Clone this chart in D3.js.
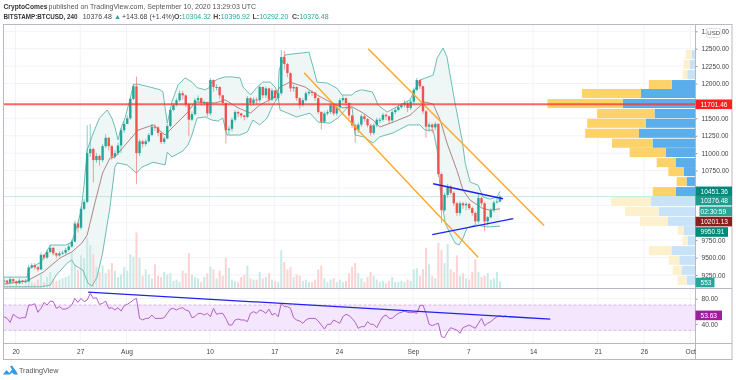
<!DOCTYPE html>
<html>
<head>
<meta charset="utf-8">
<script src="https://d3js.org/d3.v7.min.js"></script>
<style>
  html, body { margin: 0; background: #fff; }
  svg { display: block; filter: blur(0.4px); font-family: "Liberation Sans", Arial, sans-serif; }
</style>
</head>
<body>
<div id="chart"></div>
<script>
// bars are 8h steps, bar 0 sits at the left edge of the pane
const closes = [9170,9140,9190,9160,9130,9170,9150,9160,9360,9390,9360,9330,9540,9500,9580,9640,9560,9530,9560,9570,9610,9660,9730,9990,9930,10200,10300,
  11000,11060,10900,10960,10900,11100,11220,11100,10950,11000,11110,11330,11420,11500,11780,11960,
  11000,11170,11130,11170,11260,11380,11370,11290,11160,11210,11390,11620,11690,11760,11860,11830,11700,11480,11560,11760,11790,11720,11730,11570,12050,11950,11950,11830,11720,11330,11350,11480,11590,11570,11540,11520,11790,11720,11770,
  11760,11950,11830,11930,11770,11900,11790,11860,12380,12280,12150,11930,11950,11790,11690,11760,11860,11880,11870,11790,11590,11450,11570,11590,11690,11570,11660,11760,11790,11720,11540,11400,11330,11410,11530,11490,11400,11290,11400,11480,
  11480,11550,11530,11470,11590,11620,11660,11690,11720,11650,11740,11910,12050,11960,11600,11380,11410,11370,11420,10700,10180,10400,10520,10430,10280,10140,10280,10250,10270,10210,10140,10020,10355,10280,10020,10080,10180,10290,10304,10376.48];
const highs = [9200,9180,9220,9200,9170,9200,9180,9190,9400,9420,9420,9380,9570,9560,9610,9680,9650,9570,9590,9600,9640,9700,9760,10030,10010,10230,10340,
  11400,11420,11080,11000,10980,11130,11270,11230,11120,11040,11150,11360,11460,11540,11800,12000,
  12100,11200,11190,11200,11290,11420,11420,11390,11300,11240,11420,11640,11720,11790,11900,11890,11840,11720,11600,11790,11830,11800,11760,11740,12080,12060,11990,11960,11840,11730,11390,11510,11620,11610,11580,11550,11820,11800,11800,
  11800,11980,11960,11960,11940,11930,11910,11880,12480,12470,12300,12160,11980,11960,11800,11790,11890,11910,11900,11880,11800,11600,11600,11620,11720,11700,11690,11790,11830,11800,11730,11550,11420,11440,11560,11560,11500,11420,11430,11510,
  11510,11580,11570,11540,11620,11650,11690,11720,11760,11740,11770,11940,12080,12060,11970,11620,11440,11430,11450,11430,10720,10430,10560,10540,10450,10300,10310,10300,10300,10290,10230,10160,10420,10370,10290,10100,10210,10320,10370,10396.92];
const lows = [9130,9110,9130,9130,9100,9120,9120,9130,9150,9340,9330,9300,9320,9470,9480,9560,9530,9490,9510,9540,9550,9590,9640,9720,9860,9900,10180,
  10280,10950,10580,10860,10820,10870,11070,11040,10900,10920,10970,11000,11290,11420,11480,11760,
  10560,10960,11080,11100,11150,11240,11320,11240,11130,11130,11200,11370,11600,11670,11740,11770,11660,11240,11460,11540,11730,11680,11680,11520,11540,11880,11900,11780,11680,11140,11270,11310,11450,11520,11500,11470,11500,11680,11680,
  11700,11730,11790,11790,11720,11740,11750,11760,11830,12200,12090,11880,11880,11750,11640,11670,11740,11830,11820,11750,11560,11340,11430,11540,11560,11540,11540,11620,11730,11670,11490,11360,11150,11290,11380,11450,11370,11250,11260,11370,
  11430,11450,11480,11420,11440,11560,11600,11640,11660,11590,11620,11700,11890,11920,11560,11220,11300,11290,11330,10660,10000,10160,10360,10400,10240,10100,10100,10200,10180,10180,10100,9980,9990,10240,9880,9960,10060,10150,10280,10292.2];
const volumes = [300,250,320,200,260,240,180,300,1200,500,400,700,1100,500,900,1300,800,600,700,800,900,1000,2800,1900,1500,2600,2400,
  4000,3400,2700,1700,1300,1800,1200,1500,2000,1400,900,1100,1700,1400,2700,2500,
  4400,2400,1000,1500,1100,800,1900,1000,900,1300,1100,1200,600,700,500,1400,1200,2800,1100,900,800,500,900,1200,1700,1500,800,1400,1000,2400,1600,700,600,500,900,1100,1800,800,700,
  700,1300,800,900,1200,700,600,500,3000,2100,1500,1700,900,1100,1000,600,700,500,500,700,1500,1800,800,500,700,800,500,700,500,600,1200,1700,2000,1200,800,500,900,1300,1000,700,
  500,600,400,600,900,500,500,600,500,700,600,1500,1600,1000,1500,3200,1900,1000,800,3600,3000,2000,3500,1500,1300,2600,1000,1200,800,700,1300,2300,1300,900,1000,1200,700,800,1300,553];
const rsi = [51.6,48.9,42.6,55.3,51.6,48.9,50,50,70,70,72.1,58.4,64.7,74.2,70,76.3,75.3,64.7,67.4,63.7,63.7,65.8,70,80.5,74.2,80.5,75.3,77.9,88.4,80.5,81.6,71,72.6,76.3,64.7,65.8,62.1,65.8,60.5,68.9,71,74.2,77.9,80.5,48.9,46.3,48.9,48.9,54.2,48.9,48.9,48.9,50,56.8,63.7,64.7,62.1,64.7,65.8,62.1,60.5,50,51.6,56.8,56.8,54.2,56.8,51.6,64.7,55.3,56.8,56.8,48.9,38.4,38.4,46.3,47.9,46.3,46.3,43.7,56.8,59.5,56.8,62.1,60.5,56.8,63.7,54.2,56.8,51.6,72.6,67.4,67.4,64.7,50,46.3,44.7,41.1,46.3,48.9,48.9,48.9,44.7,38.4,32.1,39.5,39.5,46.3,43.7,41.1,51.6,55.3,53.2,48.9,42.6,33.2,35.8,35.8,43.7,39.5,
  39.5,34.2,43.7,51.6,54.2,48.9,48.9,53.2,56.8,58.4,60.5,58.4,57.9,58.4,56.8,68.9,70,56.8,39.5,37.4,39.5,41.1,20,18.4,27.9,34.2,32.1,30.5,25.3,34.2,36.3,38.4,35.8,33.2,41.1,48.9,37.4,41.1,43.7,47.9,51.6,53.2,51,53.63];

// bollinger bands, read at the bars where the curves bend
const upperBars = [0,7.5,8,12,15,20,22,24,25,26,27,29,31,33.5,35,36,37,38,39.3,41,42,43,47.4,50.6,51.6,52.3,53,54.5,56.5,58.8,61,62.7,65.3,66.6,67.2,69.5,71.8,74,76.6,77.6,80,82,84,86.4,88,89,89.3,91.2,93.8,99,100.3,101.6,105,108,109.7,113,114,116,119.5,120.5,121.4,124.4,128.5,131.8,133,135,139.3,140.6,142.5,143.8,144.8,146.4,148.7,149.7,151.3,153.9,155.5,157.8,160,161];
const upperVals = [9220,9220,9335,9435,9680,9680,9720,9995,10180,10540,11045,11290,11505,11620,11505,11375,11190,11360,11505,11790,11980,11995,11950,11910,11880,11650,11430,11735,11980,12080,12020,11940,11910,11940,12010,12065,12095,12095,12080,11950,11835,11940,12020,12020,11950,11835,12195,12410,12425,12450,12240,12020,12005,11935,11835,11835,11880,11910,11880,11795,11690,11590,11690,11765,11880,12050,12120,12365,12510,12380,12120,11720,11190,10860,10585,10540,10370,10340,10370,10451.36];
const lowerBars = [0,7.5,12,15,17,20.5,22,23,25.6,27.3,28.6,30.2,32,34.4,36,36.7,40,43,44.8,48.4,52.3,53,54.5,58,59.7,61,62.7,65.3,67.5,69.5,71,72.4,76.6,79,80.8,83,85.4,87.3,89,89.6,95,99.3,102,105.8,108.4,111.4,113,114,116.6,119.8,122,126.3,131.2,135,136.7,139.3,140.6,141.6,143.2,144.8,146.4,147.7,149,150.3,153,156.8,161];
const lowerVals = [9080,9080,9080,9105,9250,9420,9465,9390,9320,9130,9090,9220,9565,10225,10800,10860,10830,10715,10800,10870,10830,11015,10945,11030,11115,11260,11505,11520,11475,11460,11505,11260,11260,11305,11475,11405,11505,11690,11805,11620,11520,11575,11445,11430,11505,11650,11650,11260,11235,11145,11235,11290,11405,11405,11330,11330,11045,10470,9995,9850,9710,9680,9780,9925,9970,9940,9950.91];
const midBars = [0,7.5,12.7,18.2,22,25.3,27,29.5,32,34.4,36,39.3,43.5,48.4,52.3,55.5,59.7,62,68.5,71.8,76,80,83,87.3,89.6,92.8,97.7,101.6,105.8,110,113,116.6,119.8,122,126.3,131.8,134.4,136.7,139.3,141.6,143.8,147,149,151.3,155.2,157.8,161];
const midVals = [9120,9165,9290,9495,9580,9710,9825,10285,10715,10930,10945,11115,11330,11405,11260,11405,11590,11735,11720,11765,11650,11575,11690,11790,11950,12020,11950,11835,11735,11650,11665,11575,11475,11375,11445,11545,11650,11735,11705,11475,11145,10755,10470,10325,10210,10180,10201.13];

// visible range volume profile, top row first
const profileTops = [12481,12338,12194,12050,11921,11777,11634,11494,11350,11207,11073,10929,10800,10656,10513,10369,10225,10086,9952,9808,9665,9525,9382,9238];
const profileUp = [4,6,8.3,24,55,73.3,41.3,50,57,43.3,30,20,12,9,20,45,37,28,12,8,24.3,16.3,14,9];
const profileDown = [6,6,4.7,23,59.3,75.7,57.7,59,54,40.7,36.3,19,15.3,10,23,40,34,28,6,5,22.7,10.7,9,9];
const profileStrong = [0,0,0,1,1,1,1,1,1,1,1,1,1,1,1,0,0,0,0,0,0,0,0,0];

const gridPrices = [12750,12500,12250,12000,11750,11500,11250,11000,10750,10500,10250,10000,9750,9500,9250];
// the rest of the scale sits under the value tags
const priceLabels = [12750,12500,12250,12000,11500,11250,11000,10750,9750,9500,9250];
const rsiTicks = [80,40];
const timeLabels = ['20','27','Aug','10','17','24','Sep','7','14','21','26','Oct'];
const timeDays = [0,7,12,21,28,35,43,49,56,63,68,73];

// drawn lines as [bar, price] ends
const orangeLower = [[97.4,12156],[153.9,9505]];
const orangeUpper = [[118.2,12500],[175.3,9960]];
const blueUpper = [[139.3,10560],[162,10345]];
const blueLower = [[139,9830],[165.3,10060]];
const rsiTrend = [[27.3,90.4],[177.3,47.8]];

const width = 736, height = 380;
const paneLeft = 3.5, paneRight = 695.5, frameRight = 732;
const paneTop = 24.5, paneBottom = 288.5, rsiBottom = 343.5, frameBottom = 359.5;

const svg = d3.select('#chart').append('svg')
  .attr('width', width)
  .attr('height', height);

svg.append('defs').append('clipPath').attr('id', 'pane')
  .append('rect')
  .attr('x', paneLeft).attr('y', paneTop)
  .attr('width', paneRight - paneLeft).attr('height', paneBottom - paneTop);

const x = d3.scaleLinear().domain([0, 161]).range([4, 500]);
const dayBar = d => d * 3 + 3.75;
const y = d3.scaleLinear().domain([9250, 12500]).range([275, 48.7]);
const rsiY = d3.scaleLinear().domain([40, 80]).range([324, 298.7]);
const volY = d3.scaleLinear().domain([0, 4400]).range([288.5, 232.5]);
const profileX = d3.scaleLinear().domain([0, 150]).range([695.5, 546.5]);

// grid
const grid = svg.append('g').attr('stroke', '#f2f3fa').attr('stroke-width', 1);
grid.selectAll('.h').data(gridPrices).enter().append('line')
  .attr('x1', paneLeft).attr('x2', paneRight)
  .attr('y1', d => y(d)).attr('y2', d => y(d));
grid.selectAll('.r').data(rsiTicks).enter().append('line')
  .attr('x1', paneLeft).attr('x2', paneRight)
  .attr('y1', d => rsiY(d)).attr('y2', d => rsiY(d));
grid.selectAll('.v').data(timeDays).enter().append('line')
  .attr('x1', d => x(dayBar(d))).attr('x2', d => x(dayBar(d)))
  .attr('y1', paneTop).attr('y2', rsiBottom);

const price = svg.append('g').attr('clip-path', 'url(#pane)');

// band background
const upperPts = upperBars.map((b, i) => [b, upperVals[i]]);
const lowerPts = lowerBars.map((b, i) => [b, lowerVals[i]]);
const midPts = midBars.map((b, i) => [b, midVals[i]]);
const line = d3.line().x(d => x(d[0])).y(d => y(d[1]));
price.append('path')
  .attr('d', line(upperPts.concat(lowerPts.slice().reverse())) + 'Z')
  .attr('fill', '#eef7f6');

// volume
const opens = closes.map((c, i) => i ? closes[i - 1] : c);
price.selectAll('.vol').data(volumes).enter().append('rect')
  .attr('x', (d, i) => x(i) - 1)
  .attr('width', 2)
  .attr('y', d => volY(d))
  .attr('height', d => volY(0) - volY(d))
  .attr('fill', (d, i) => closes[i] >= opens[i] ? '#c8e9e5' : '#fcd2d2');

// volume profile
profileTops.forEach((top, i) => {
  const y0 = y(top), h = y(top - 130) - y0;
  const up = profileUp[i], down = profileDown[i];
  price.append('rect')
    .attr('x', profileX(up)).attr('y', y0)
    .attr('width', profileX(0) - profileX(up)).attr('height', h)
    .attr('fill', profileStrong[i] ? '#5aaeeb' : '#c8e3f8');
  price.append('rect')
    .attr('x', profileX(up + down)).attr('y', y0)
    .attr('width', profileX(up) - profileX(up + down)).attr('height', h)
    .attr('fill', profileStrong[i] ? '#fdd268' : '#fdf0cd');
});

// last price dotted
price.append('line')
  .attr('x1', paneLeft).attr('x2', paneRight)
  .attr('y1', y(10376.48)).attr('y2', y(10376.48))
  .attr('stroke', '#8fd3cc').attr('stroke-dasharray', '1,1');

// bands
const bandStyle = [[upperPts, '#6dbdb3'], [lowerPts, '#6dbdb3'], [midPts, '#b08482']];
bandStyle.forEach(b => {
  price.append('path')
    .attr('d', line(b[0]))
    .attr('fill', 'none')
    .attr('stroke', b[1])
    .attr('stroke-width', 1);
});

// candles
price.selectAll('.wick').data(closes).enter().append('line')
  .attr('x1', (d, i) => x(i)).attr('x2', (d, i) => x(i))
  .attr('y1', (d, i) => y(highs[i])).attr('y2', (d, i) => y(lows[i]))
  .attr('stroke', (d, i) => d >= opens[i] ? '#26a69a' : '#ef5350')
  .attr('stroke-opacity', 0.55)
  .attr('stroke-width', 1);
price.selectAll('.body').data(closes).enter().append('rect')
  .attr('x', (d, i) => x(i) - 1.2)
  .attr('width', 2.4)
  .attr('y', (d, i) => y(Math.max(d, opens[i])))
  .attr('height', (d, i) => Math.max(1, Math.abs(y(d) - y(opens[i]))))
  .attr('fill', (d, i) => d >= opens[i] ? '#26a69a' : '#ef5350');

// trend lines
[[orangeLower, '#ffa726'], [orangeUpper, '#ffa726']].forEach(t => {
  price.append('path').attr('d', line(t[0])).attr('fill', 'none')
    .attr('stroke', t[1]).attr('stroke-width', 1.4);
});
[blueUpper, blueLower].forEach(t => {
  price.append('path').attr('d', line(t)).attr('fill', 'none')
    .attr('stroke', '#2222ee').attr('stroke-width', 1.4);
});

// support level
price.append('line')
  .attr('x1', paneLeft).attr('x2', paneRight)
  .attr('y1', y(11701.46)).attr('y2', y(11701.46))
  .attr('stroke', '#ff3030').attr('stroke-opacity', 0.75).attr('stroke-width', 2);

// rsi pane
const rsiPane = svg.append('g');
rsiPane.append('rect')
  .attr('x', paneLeft).attr('width', paneRight - paneLeft)
  .attr('y', rsiY(70)).attr('height', rsiY(30) - rsiY(70))
  .attr('fill', '#f3e6fd');
[70, 30].forEach(v => {
  rsiPane.append('line')
    .attr('x1', paneLeft).attr('x2', paneRight)
    .attr('y1', rsiY(v)).attr('y2', rsiY(v))
    .attr('stroke', '#d6b8e6').attr('stroke-dasharray', '3,2');
});
const rsiLine = d3.line().x((d, i) => x(i)).y(d => rsiY(d));
rsiPane.append('path').attr('d', rsiLine(rsi))
  .attr('fill', 'none').attr('stroke', '#b55fca').attr('stroke-width', 1);
rsiPane.append('path')
  .attr('d', d3.line().x(d => x(d[0])).y(d => rsiY(d[1]))(rsiTrend))
  .attr('fill', 'none').attr('stroke', '#2222ee').attr('stroke-width', 1.3);

// frame
const frame = svg.append('g').attr('stroke', '#b8b9c2').attr('fill', 'none');
frame.append('rect')
  .attr('x', paneLeft).attr('y', paneTop)
  .attr('width', frameRight - paneLeft).attr('height', frameBottom - paneTop);
[paneBottom, rsiBottom].forEach(v => {
  frame.append('line').attr('x1', paneLeft).attr('x2', frameRight).attr('y1', v).attr('y2', v);
});
frame.append('line').attr('x1', paneRight).attr('x2', paneRight).attr('y1', paneTop).attr('y2', frameBottom);

// axes
const fmt = d3.format('.2f');
const priceAxis = svg.append('g')
  .attr('transform', `translate(${paneRight},0)`)
  .call(d3.axisRight(y).tickValues(priceLabels).tickFormat(fmt).tickSize(2).tickPadding(4));
const rsiAxis = svg.append('g')
  .attr('transform', `translate(${paneRight},0)`)
  .call(d3.axisRight(rsiY).tickValues(rsiTicks).tickFormat(fmt).tickSize(2).tickPadding(4));
const timeAxis = svg.append('g')
  .attr('transform', `translate(0,${rsiBottom})`)
  .call(d3.axisBottom(x).tickValues(timeDays.map(dayBar)).tickFormat((d, i) => timeLabels[i]).tickSize(0).tickPadding(6));
[priceAxis, rsiAxis, timeAxis].forEach(a => {
  a.select('.domain').remove();
  a.selectAll('text').attr('font-size', 6.6).attr('fill', '#444').attr('font-family', 'inherit');
  a.selectAll('line').attr('stroke', '#999');
});

// price tags on the axis
function tag(text, yPos, fill, w, left) {
  const g = svg.append('g');
  g.append('rect').attr('x', left || paneRight).attr('y', yPos - 4.8)
    .attr('width', w).attr('height', 9.6).attr('fill', fill);
  g.append('text').attr('x', 700.5).attr('y', yPos + 2.4)
    .attr('fill', '#fff').attr('font-size', 6.6).text(text);
}
tag('11701.46', y(11701.46), '#ff1f1f', 36.5);
tag('10451.36', y(10451.36), '#00897b', 36.5);
tag('10376.48', y(10376.48) + 4, '#1f9a8d', 36.5);
tag('02:30:59', y(10376.48) + 14.8, '#2aa597', 32.5, 699.5);
tag('10201.13', y(10201.13) + 12.8, '#8b1e1e', 36.5);
tag('9950.91', y(9950.91) + 5.8, '#00897b', 32.5);
tag('553', 282.5, '#26a69a', 19);
tag('53.63', rsiY(53.63), '#9c1f9f', 26.5);

// currency button
const usd = svg.append('g');
usd.append('rect').attr('x', 706.5).attr('y', 28.5).attr('width', 14.5).attr('height', 9)
  .attr('rx', 2).attr('fill', '#fff').attr('stroke', '#dfe0e6');
usd.append('text').attr('x', 713.7).attr('y', 35.3).attr('text-anchor', 'middle')
  .attr('font-size', 6).attr('fill', '#444').text('USD');

// header
const head = svg.append('text').attr('x', 3.5).attr('y', 9).attr('font-size', 7).attr('fill', '#555');
head.append('tspan').attr('font-weight', 'bold').attr('font-size', 6.7).attr('fill', '#333').text('CryptoComes');
head.append('tspan').attr('x', 48.5).text('published on TradingView.com, September 10, 2020 13:29:03 UTC');

const quote = svg.append('text').attr('y', 19).attr('font-size', 7).attr('fill', '#444');
quote.append('tspan').attr('x', 3.5).attr('font-weight', 'bold').attr('font-size', 6.3).attr('fill', '#333').text('BITSTAMP:BTCUSD, 240');
quote.append('tspan').attr('x', 82.7).text('10376.48');
quote.append('tspan').attr('x', 114).attr('fill', '#26a69a').text('\u25B2');
quote.append('tspan').attr('x', 122).text('+143.68 (+1.4%)');
[['O:', '10304.32', 174], ['H:', '10396.92', 213.3], ['L:', '10292.20', 252.6], ['C:', '10376.48', 292]].forEach(p => {
  quote.append('tspan').attr('x', p[2]).attr('font-weight', 'bold').text(p[0]);
  quote.append('tspan').attr('fill', '#26a69a').text(p[1]);
});

// footer mark
svg.append('path')
  .attr('d', 'M3 374.5 L6.5 370 L9.5 373 L12 369.5 L10 366.5 L12 365.5 L14.5 369 L16 371 L18 374.5 L14 374.5 L12 372.5 L10 374.5 Z')
  .attr('fill', '#2f9be8');
svg.append('text').attr('x', 19).attr('y', 372.7).attr('font-size', 7.2).attr('fill', '#555').text('TradingView');
</script>
</body>
</html>
